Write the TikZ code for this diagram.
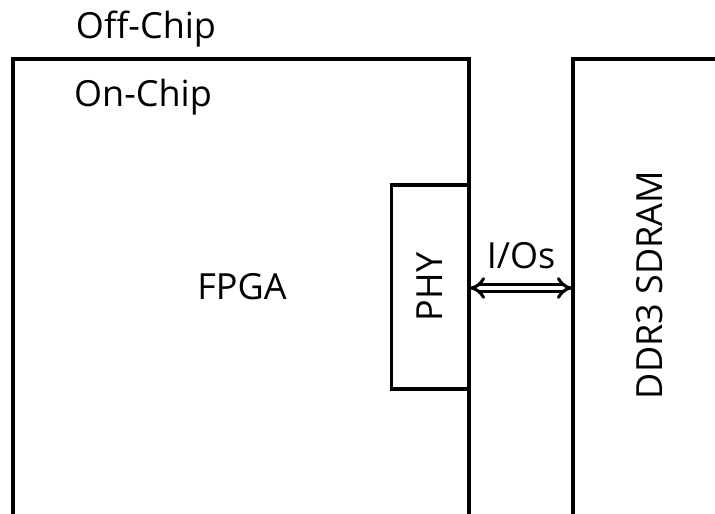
\documentclass[tikz,border=0pt]{standalone}
\usepackage{fontspec}
\setmainfont{Open Sans}
\usetikzlibrary{arrows.meta}
\begin{document}
\begin{tikzpicture}[x=0.75pt,y=-0.75pt,
  box/.style={draw=black,line width=2.6pt},
  lbl/.style={inner sep=0pt,anchor=base,font=\fontsize{27pt}{30pt}\selectfont},
  rlbl/.style={inner sep=0pt,rotate=90,font=\fontsize{27pt}{30pt}\selectfont},
  io/.style={double,double distance=3pt,line width=2.3pt,{Implies}-{Implies}}]
\useasboundingbox (0,0) rectangle (715,514);
\fill[white] (0,0) rectangle (715,514);
% boxes (extend past bottom edge)
\draw[box] (13,530) -- (13,59) -- (469,59) -- (469,530);
\draw[box] (573,530) -- (573,59) -- (730,59);
\node[box,minimum width=77*0.75pt,minimum height=204*0.75pt,inner sep=0pt,line width=2.4pt] (phy) at (430,287) {};
\coordinate (fr) at (470,288);
\coordinate (dl) at (572,288);
% text
\node[lbl] (off) at (146,38) {Off-Chip};
\node[lbl] (on) at (143,106) {On-Chip};
\node[lbl] (fpga) at (242,299) {FPGA};
\node[rlbl] (phyt) at (430,287) {PHY};
\node[lbl] (ios) at (521,268) {I/Os};
\node[rlbl] (ddr) at (650,285) {DDR3 SDRAM};
\draw[io] (fr) -- (dl);
\end{tikzpicture}
\end{document}
